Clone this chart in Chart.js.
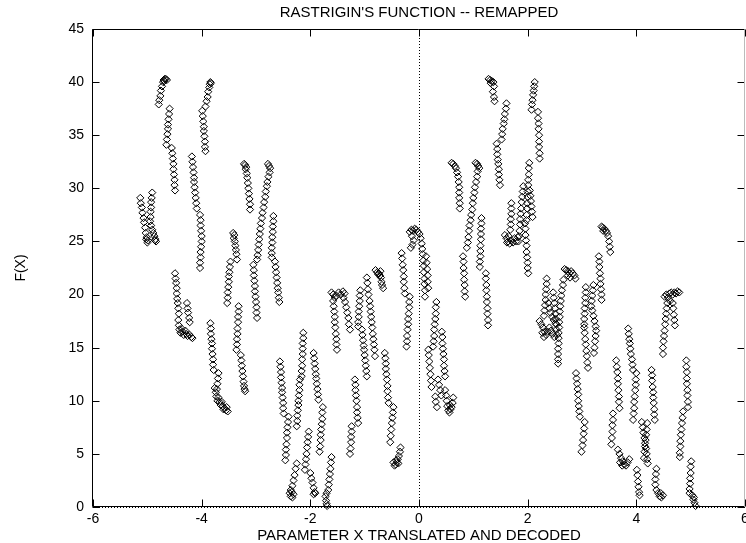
<!DOCTYPE html>
<html>
<head>
<meta charset="utf-8">
<title>Rastrigin's function -- remapped</title>
<script src="https://cdn.jsdelivr.net/npm/chart.js@4.4.0/dist/chart.umd.min.js"></script>
<style>
  html, body { margin: 0; padding: 0; background: #fff; }
</style>
</head>
<body>
<canvas id="rastriginChart" width="746" height="543"></canvas>
<script>
// axis setup
var chartTitle = "RASTRIGIN'S FUNCTION -- REMAPPED";
var xTitle = 'PARAMETER X TRANSLATED AND DECODED';
var yTitle = 'F(X)';
var xTickValues = [-6, -4, -2, 0, 2, 4, 6];
var yTickValues = [0, 5, 10, 15, 20, 25, 30, 35, 40, 45];

// population points [x, f(x)], grouped by x band
var farLeftPts = [
  [-5.13,29.1],[-5.12,28.6],[-5.10,28.2],[-5.09,27.7],[-5.07,27.2],[-5.06,26.8],[-5.04,26.3],[-5.03,25.8],[-5.01,25.4],[-5.00,24.9],[-5.02,25.2],[-4.99,25.1],
  [-4.91,29.6],[-4.92,29.1],[-4.93,28.7],[-4.93,28.2],[-4.94,27.8],[-4.94,27.3],[-4.95,26.9],[-4.93,26.5],[-4.91,26.1],[-4.89,25.8],[-4.87,25.5],[-4.85,25.2],[-4.84,25.0],[-4.86,25.1],
  [-4.64,40.2],[-4.66,40.3],[-4.68,40.3],[-4.70,40.2],[-4.71,40.0],[-4.69,40.1],[-4.73,39.6],[-4.75,39.2],[-4.76,38.7],[-4.78,38.3],[-4.79,37.9],
  [-4.59,37.5],[-4.60,37.0],[-4.61,36.5],[-4.62,36.0],[-4.62,35.6],[-4.63,35.1],[-4.64,34.6],[-4.65,34.1],
  [-4.55,33.8],[-4.54,33.3],[-4.53,32.8],[-4.52,32.3],[-4.52,31.8],[-4.51,31.3],[-4.50,30.8],[-4.50,30.3],[-4.49,29.8],
  [-4.49,22.0],[-4.48,21.5],[-4.47,21.1],[-4.46,20.6],[-4.46,20.1],[-4.45,19.6],[-4.44,19.2],[-4.43,18.7],[-4.42,18.2],
  [-4.27,19.2],[-4.26,18.7],[-4.25,18.3],[-4.23,17.8],[-4.22,17.4],
  [-4.43,17.6],[-4.42,17.1],[-4.41,16.7],[-4.39,16.4],[-4.37,16.8],[-4.35,16.5],[-4.33,16.2],[-4.30,16.6],[-4.28,16.3],[-4.26,16.1],[-4.22,16.2],[-4.19,16.0],[-4.17,15.9],
  [-4.18,33.0],[-4.17,32.5],[-4.16,32.0],[-4.15,31.5],[-4.14,31.0],[-4.14,30.6],[-4.13,30.1],[-4.12,29.6],[-4.11,29.1],[-4.10,28.6],[-4.09,28.1],
  [-4.03,27.5],[-4.02,27.0],[-4.02,26.5],[-4.01,26.0],[-4.00,25.5],[-4.00,25.0],[-4.01,24.5],[-4.02,24.0],[-4.02,23.5],[-4.03,23.0],[-4.03,22.5],
  [-3.84,40.0],[-3.85,39.8],[-3.83,39.9],[-3.86,39.5],[-3.88,39.1],[-3.89,38.6],[-3.91,38.2],[-3.93,37.7],
  [-3.99,37.3],[-3.98,36.8],[-3.97,36.3],[-3.96,35.8],[-3.96,35.4],[-3.95,34.9],[-3.94,34.4],[-3.94,33.9],[-3.93,33.5],
  [-3.84,17.3],[-3.83,16.8],[-3.83,16.3],[-3.82,15.8],[-3.81,15.4],[-3.81,14.9],[-3.80,14.4],[-3.79,13.9],[-3.79,13.4],[-3.78,12.9],
  [-3.69,12.6],[-3.70,12.1],[-3.71,11.6],[-3.72,11.1],
  [-3.76,11.2],[-3.74,10.8],[-3.73,10.4],[-3.71,10.0],[-3.69,10.3],[-3.67,9.9],[-3.65,9.6],[-3.63,9.9],[-3.61,9.5],[-3.58,9.3],[-3.55,9.1],[-3.52,9.0],[-3.54,9.4],[-3.60,9.2]
];

var leftMidPts = [
  [-3.42,25.8],[-3.40,25.6],[-3.41,25.3],[-3.39,25.0],[-3.38,24.6],[-3.37,24.2],[-3.36,23.8],[-3.35,23.3],
  [-3.47,23.1],[-3.48,22.6],[-3.49,22.1],[-3.50,21.7],[-3.50,21.2],[-3.51,20.7],[-3.52,20.2],[-3.52,19.7],[-3.53,19.2],
  [-3.32,18.9],[-3.32,18.4],[-3.33,17.9],[-3.33,17.4],[-3.34,16.8],[-3.34,16.3],[-3.35,15.8],[-3.35,15.3],[-3.36,14.8],
  [-3.28,14.3],[-3.27,13.8],[-3.26,13.3],[-3.25,12.8],[-3.24,12.3],[-3.23,11.8],[-3.22,11.4],[-3.20,10.9],[-3.21,11.1],
  [-3.22,32.3],[-3.20,32.2],[-3.18,32.0],[-3.19,31.8],[-3.17,31.4],[-3.16,31.0],[-3.15,30.5],[-3.14,30.0],[-3.13,29.5],[-3.12,29.0],[-3.11,28.5],[-3.11,28.0],
  [-3.05,22.8],[-3.04,22.3],[-3.04,21.8],[-3.03,21.3],[-3.02,20.8],[-3.02,20.3],[-3.01,19.8],[-3.00,19.3],[-2.99,18.8],[-2.99,18.3],[-2.98,17.8],
  [-2.78,32.3],[-2.76,32.1],[-2.74,31.9],[-2.75,31.5],[-2.77,31.1],[-2.79,30.6],[-2.80,30.2],[-2.82,29.7],[-2.83,29.2],[-2.85,28.7],[-2.86,28.2],[-2.88,27.7],[-2.89,27.2],[-2.91,26.7],[-2.92,26.2],[-2.93,25.7],[-2.94,25.2],[-2.95,24.7],[-2.96,24.2],[-2.97,23.7],[-2.98,23.3],
  [-2.68,27.4],[-2.68,26.9],[-2.69,26.4],[-2.69,25.9],[-2.70,25.4],[-2.70,24.9],[-2.71,24.4],[-2.71,23.9],[-2.71,23.5],
  [-2.65,23.1],[-2.64,22.6],[-2.63,22.1],[-2.62,21.6],[-2.61,21.1],[-2.60,20.6],[-2.59,20.2],[-2.58,19.7],[-2.57,19.3],
  [-2.56,13.7],[-2.55,13.2],[-2.54,12.7],[-2.54,12.2],[-2.53,11.7],[-2.52,11.2],[-2.52,10.8],[-2.51,10.3],[-2.50,9.8],[-2.50,9.3],[-2.49,8.8],
  [-2.40,8.5],[-2.41,8.0],[-2.42,7.5],[-2.43,7.0],[-2.43,6.5],[-2.44,5.9],[-2.45,5.4],[-2.45,4.9],[-2.46,4.4],
  [-2.25,4.1],[-2.27,3.6],[-2.29,3.0],[-2.31,2.5],[-2.33,2.0],[-2.36,1.6],[-2.38,1.3],[-2.36,1.0],[-2.33,0.9],[-2.31,1.2],[-2.34,1.4],
  [-2.13,16.4],[-2.13,15.9],[-2.14,15.4],[-2.14,14.9],[-2.14,14.4],[-2.15,13.9],[-2.15,13.3],[-2.16,12.8],[-2.16,12.3],
  [-2.19,12.0],[-2.20,11.5],[-2.20,11.0],[-2.21,10.5],[-2.22,10.0],[-2.22,9.6],[-2.23,9.1],[-2.24,8.6],[-2.24,8.1],[-2.25,7.6],
  [-2.03,7.1],[-2.04,6.6],[-2.05,6.1],[-2.06,5.6],[-2.07,5.0],[-2.08,4.5],[-2.09,4.0],[-2.10,3.5],
  [-2.00,3.2],[-1.98,2.7],[-1.96,2.3],[-1.94,1.8],[-1.92,1.4],[-1.94,1.2],[-1.91,1.3]
];

var centerLeftPts = [
  [-1.94,14.5],[-1.93,14.0],[-1.92,13.5],[-1.91,13.0],[-1.90,12.5],[-1.89,12.1],[-1.88,11.6],[-1.87,11.1],[-1.86,10.6],[-1.85,10.1],
  [-1.77,9.4],[-1.78,8.9],[-1.78,8.3],[-1.79,7.8],[-1.80,7.3],[-1.81,6.8],[-1.81,6.3],[-1.82,5.7],[-1.83,5.2],
  [-1.61,4.7],[-1.62,4.2],[-1.63,3.6],[-1.64,3.1],[-1.65,2.6],[-1.66,2.1],[-1.67,1.6],[-1.70,1.3],[-1.72,1.0],[-1.71,0.6],[-1.70,0.3],[-1.69,0.1],
  [-1.61,20.2],[-1.58,20.0],[-1.55,19.7],[-1.52,19.9],[-1.48,20.2],[-1.44,20.0],[-1.40,20.3],[-1.37,20.1],[-1.39,19.7],
  [-1.58,19.4],[-1.57,18.9],[-1.56,18.4],[-1.55,17.9],[-1.55,17.4],[-1.54,16.9],[-1.53,16.3],[-1.52,15.8],[-1.52,15.3],[-1.51,14.8],
  [-1.36,19.3],[-1.34,18.8],[-1.32,18.3],[-1.30,17.8],[-1.29,17.2],[-1.27,16.7],
  [-1.18,12.0],[-1.17,11.5],[-1.17,11.0],[-1.16,10.5],[-1.15,10.0],[-1.14,9.4],[-1.14,8.9],[-1.13,8.4],[-1.12,7.9],
  [-1.24,7.6],[-1.24,7.1],[-1.25,6.6],[-1.25,6.1],[-1.26,5.5],[-1.27,5.0],
  [-1.08,20.4],[-1.09,19.9],[-1.09,19.4],[-1.10,18.9],[-1.11,18.4],[-1.11,17.9],[-1.12,17.4],[-1.12,17.0],
  [-1.05,16.7],[-1.04,16.2],[-1.03,15.7],[-1.02,15.2],[-1.01,14.8],[-1.00,14.3],[-0.99,13.8],[-0.98,13.3],[-0.97,12.8],[-0.96,12.3],
  [-0.96,21.6],[-0.95,21.1],[-0.94,20.5],[-0.93,20.0],[-0.91,19.4],[-0.90,18.9],
  [-0.89,18.4],[-0.88,17.9],[-0.87,17.4],[-0.86,16.9],[-0.85,16.3],[-0.84,15.8],[-0.83,15.3],[-0.82,14.8],[-0.81,14.2],
  [-0.80,22.3],[-0.77,22.1],[-0.74,22.0],[-0.72,21.8],[-0.70,21.6],[-0.69,21.2],[-0.68,20.9],[-0.66,20.6],[-0.75,21.9],[-0.71,22.2],
  [-0.63,14.5],[-0.62,14.0],[-0.61,13.5],[-0.61,13.0],[-0.60,12.5],[-0.59,12.0],[-0.58,11.4],[-0.58,10.9],[-0.57,10.3],[-0.56,9.8],
  [-0.47,9.4],[-0.48,8.9],[-0.49,8.4],[-0.50,7.9],[-0.51,7.3],[-0.52,6.7],[-0.53,6.1],
  [-0.34,5.6],[-0.35,5.2],[-0.37,4.8],[-0.39,4.5],[-0.41,4.2],[-0.43,4.0],[-0.45,3.9],[-0.42,4.4],[-0.38,4.1],[-0.47,4.2],
  [-0.32,23.9],[-0.31,23.4],[-0.30,22.8],[-0.29,22.3],[-0.28,21.7],[-0.28,21.2],[-0.27,20.6],[-0.26,20.1],
  [-0.17,19.8],[-0.18,19.3],[-0.18,18.8],[-0.19,18.2],[-0.20,17.7],[-0.20,17.2],[-0.21,16.7],[-0.22,16.1],[-0.22,15.6],[-0.23,15.1],
  [-0.17,25.9],[-0.14,26.1],[-0.11,26.0],[-0.08,26.2],[-0.05,26.1],[-0.02,25.9],[0.01,25.7],[-0.13,25.5],[-0.10,25.1],[-0.12,24.7],[-0.15,24.4],[0.03,25.3]
];

var centerRightPts = [
  [0.05,24.8],[0.06,24.3],[0.07,23.8],[0.08,23.2],[0.09,22.7],[0.09,22.1],[0.10,21.5],[0.10,21.0],[0.11,20.4],[0.11,19.8],
  [0.13,23.6],[0.14,23.0],[0.15,22.4],[0.16,21.8],[0.16,21.2],[0.17,20.6],
  [0.32,19.3],[0.31,18.8],[0.31,18.2],[0.30,17.7],[0.29,17.2],[0.28,16.7],[0.28,16.1],[0.27,15.6],[0.26,15.1],
  [0.17,14.8],[0.18,14.3],[0.19,13.7],[0.20,13.1],[0.21,12.5],[0.22,11.9],[0.23,11.3],
  [0.42,16.5],[0.43,16.0],[0.43,15.4],[0.44,14.9],[0.45,14.4],[0.46,13.9],[0.46,13.3],[0.47,12.8],[0.48,12.3],
  [0.35,12.0],[0.37,11.5],[0.39,11.0],[0.41,10.5],
  [0.30,10.4],[0.31,9.9],[0.33,9.4],
  [0.48,11.0],[0.50,10.5],[0.51,10.0],[0.52,9.5],[0.54,9.1],[0.56,8.9],[0.58,9.2],[0.60,9.4],[0.57,9.6],[0.62,9.8],[0.63,10.3],
  [0.60,32.4],[0.63,32.3],[0.66,32.1],[0.68,31.9],[0.70,31.5],[0.72,31.1],[0.73,30.6],[0.74,30.1],[0.74,29.6],[0.74,29.1],[0.75,28.6],[0.75,28.1],
  [1.04,32.4],[1.07,32.3],[1.09,32.1],[1.11,31.9],[1.08,31.6],[1.07,31.1],[1.05,30.6],[1.03,30.1],[1.02,29.6],[1.00,29.1],[0.99,28.6],[0.98,28.0],[0.96,27.5],[0.95,27.0],[0.93,26.5],[0.92,26.0],[0.91,25.4],[0.90,24.9],[0.88,24.4],
  [0.81,23.6],[0.82,23.1],[0.82,22.5],[0.83,22.0],[0.83,21.4],[0.84,20.9],[0.84,20.3],[0.85,19.8],
  [1.15,27.2],[1.15,26.7],[1.14,26.2],[1.14,25.7],[1.14,25.2],[1.13,24.6],[1.13,24.1],[1.13,23.6],[1.12,23.1],[1.12,22.6],
  [1.23,22.0],[1.23,21.5],[1.24,20.9],[1.24,20.4],[1.25,19.8],[1.25,19.3],[1.26,18.7],[1.26,18.2],[1.27,17.6],[1.27,17.1],
  [1.28,40.3],[1.31,40.2],[1.34,40.1],[1.37,40.0],[1.32,39.9],[1.38,39.6],[1.36,39.1],[1.38,38.6],[1.39,38.2],
  [1.61,38.0],[1.60,37.5],[1.58,37.0],[1.57,36.5],[1.56,36.1],[1.54,35.6],[1.53,35.1],[1.52,34.6],
  [1.43,34.2],[1.44,33.7],[1.44,33.2],[1.45,32.7],[1.46,32.3],[1.47,31.8],[1.47,31.3],[1.48,30.8],[1.49,30.3],
  [1.70,28.6],[1.70,28.1],[1.70,27.6],[1.69,27.1],[1.69,26.6],[1.68,26.1],
  [1.92,30.2],[1.91,29.7],[1.90,29.2],[1.89,28.7],[1.88,28.1],[1.87,27.6],[1.86,27.1],[1.86,26.6],[1.85,26.0],[1.84,25.5],[1.83,25.0],
  [1.58,25.6],[1.61,25.3],[1.64,25.0],[1.67,24.8],[1.70,25.1],[1.73,24.9],[1.76,25.3],[1.79,25.0],[1.82,25.4],[1.65,25.5],[1.62,24.9],
  [2.03,32.4],[2.02,31.9],[2.02,31.3],[2.01,30.8],[2.01,30.3],[2.00,29.7],[2.00,29.2],[1.99,28.6],[1.99,28.1],[1.98,27.5],[1.98,27.0],
  [1.95,26.7],[1.96,26.2],[1.96,25.6],[1.97,25.1],[1.98,24.6],[1.98,24.0],[1.99,23.5],[2.00,23.0],[2.00,22.5],[2.01,22.0],
  [2.04,29.8],[2.05,29.3],[2.06,28.8],[2.07,28.3],[2.08,27.8],[2.09,27.3],
  [2.13,40.0],[2.12,39.6],[2.11,39.2],[2.10,38.8],[2.09,38.3],[2.08,37.9],[2.07,37.4],
  [2.19,37.2],[2.19,36.6],[2.20,36.1],[2.20,35.6],[2.21,35.0],[2.21,34.4],[2.21,33.9],[2.22,33.3],[2.22,32.8]
];

var rightMidPts = [
  [2.22,17.5],[2.25,17.2],[2.28,16.9],[2.31,16.5],[2.34,16.2],[2.37,16.5],[2.40,16.9],[2.43,16.6],[2.46,16.3],[2.49,16.0],[2.30,16.0],[2.27,16.4],
  [2.35,21.5],[2.35,21.0],[2.34,20.5],[2.33,20.0],[2.33,19.5],[2.32,19.0],[2.31,18.5],[2.30,18.0],
  [2.38,19.2],[2.40,18.7],[2.42,18.3],[2.45,17.9],[2.48,17.6],[2.51,17.3],
  [2.47,20.2],[2.48,19.7],[2.49,19.2],[2.50,18.7],[2.51,18.2],[2.52,17.7],[2.53,17.2],[2.53,16.7],[2.54,16.2],
  [2.66,21.4],[2.65,20.9],[2.63,20.4],[2.62,19.9],[2.61,19.4],[2.60,18.9],[2.59,18.4],[2.59,17.9],[2.58,17.4],[2.58,16.9],[2.57,16.4],[2.57,15.9],[2.57,15.4],[2.56,14.9],[2.56,14.4],[2.56,13.9],[2.56,13.5],
  [2.68,22.4],[2.71,22.3],[2.74,22.2],[2.77,22.0],[2.80,22.2],[2.83,22.0],[2.86,21.8],[2.88,21.5],[2.78,21.6],[2.74,21.8],
  [2.89,12.6],[2.90,12.1],[2.91,11.6],[2.92,11.1],[2.93,10.6],[2.93,10.0],[2.94,9.5],[2.95,9.0],[2.96,8.5],
  [3.05,8.0],[3.04,7.4],[3.03,6.9],[3.02,6.3],[3.01,5.8],[2.99,5.2],
  [3.07,20.7],[3.07,20.2],[3.06,19.7],[3.06,19.2],[3.05,18.7],[3.05,18.2],[3.04,17.7],[3.04,17.2],
  [3.04,16.9],[3.05,16.4],[3.06,15.8],[3.07,15.3],[3.08,14.7],[3.09,14.2],[3.10,13.6],[3.11,13.1],
  [3.21,20.9],[3.20,20.4],[3.19,19.9],[3.18,19.4],[3.17,18.9],
  [3.19,18.5],[3.21,18.0],[3.23,17.5],[3.25,17.0],
  [3.26,16.6],[3.25,16.1],[3.24,15.6],[3.23,15.0],[3.22,14.5],
  [3.31,23.6],[3.32,23.1],[3.32,22.6],[3.33,22.0],[3.34,21.5],[3.34,21.0],[3.35,20.5],[3.36,20.0],[3.36,19.5],
  [3.36,26.4],[3.38,26.3],[3.41,26.2],[3.44,26.0],[3.39,26.0],[3.46,25.8],[3.48,25.5],[3.50,25.0],[3.51,24.5],[3.52,24.0]
];

var farRightPts = [
  [3.63,13.8],[3.64,13.2],[3.65,12.7],[3.66,12.1],[3.66,11.6],[3.67,11.0],[3.68,10.4],[3.68,9.9],[3.69,9.3],
  [3.57,8.8],[3.57,8.2],[3.56,7.7],[3.56,7.1],[3.55,6.5],[3.54,5.9],
  [3.66,5.4],[3.69,5.0],[3.72,4.6],[3.75,4.3],[3.78,4.0],[3.81,3.9],[3.84,4.2],[3.87,4.5],[3.74,3.9],[3.70,4.2],
  [3.85,16.8],[3.86,16.3],[3.87,15.8],[3.88,15.4],[3.89,14.9],[3.90,14.4],[3.92,13.9],[3.93,13.4],[3.94,12.9],
  [4.00,12.6],[3.99,12.0],[3.99,11.5],[3.98,11.0],[3.97,10.4],[3.96,9.9],[3.96,9.3],[3.95,8.8],[3.94,8.2],
  [4.01,3.5],[4.02,3.0],[4.03,2.4],[4.04,1.9],[4.05,1.4],[4.06,1.1],
  [4.10,8.0],[4.12,7.5],[4.13,7.0],[4.15,6.5],[4.16,6.0],[4.18,5.5],[4.19,5.0],[4.20,4.5],[4.21,4.1],
  [4.20,7.9],[4.19,7.3],[4.18,6.8],[4.17,6.3],[4.16,5.7],[4.15,5.2],[4.14,4.6],
  [4.28,12.9],[4.29,12.4],[4.29,11.9],[4.30,11.3],[4.31,10.8],[4.31,10.3],[4.32,9.8],[4.33,9.2],[4.33,8.7],[4.34,8.2],
  [4.37,3.6],[4.36,3.1],[4.35,2.6],[4.35,2.1],[4.37,1.6],[4.40,1.3],[4.43,1.0],[4.46,0.9],[4.49,1.1],[4.45,1.3],
  [4.52,19.8],[4.55,20.0],[4.58,19.7],[4.61,20.1],[4.64,20.2],[4.67,20.0],[4.70,20.2],[4.73,20.1],[4.76,20.3],[4.79,20.2],[4.62,19.4],
  [4.57,19.2],[4.56,18.7],[4.55,18.2],[4.54,17.7],[4.53,17.2],[4.52,16.6],[4.51,16.1],[4.50,15.6],[4.49,15.0],[4.49,14.4],
  [4.67,19.2],[4.68,18.7],[4.69,18.1],[4.70,17.6],[4.71,17.1],
  [4.92,13.8],[4.92,13.2],[4.93,12.7],[4.93,12.1],[4.93,11.6],[4.94,11.0],[4.94,10.5],[4.95,9.9],[4.95,9.4],
  [4.86,9.0],[4.85,8.4],[4.84,7.9],[4.83,7.3],[4.82,6.8],[4.81,6.2],[4.81,5.7],[4.80,5.1],[4.80,4.7],
  [5.01,4.3],[5.00,3.8],[5.00,3.2],[4.99,2.7],[4.99,2.2],[4.98,1.7],[4.98,1.3],
  [5.03,1.1],[5.05,0.7],[5.07,0.4],[5.09,0.1],[5.06,0.9]
];

var allPts = farLeftPts.concat(leftMidPts, centerLeftPts, centerRightPts, rightMidPts, farRightPts)
  .map(function (p) { return { x: p[0], y: p[1] }; });

var fontFamily = '"Liberation Sans", Arial, Helvetica, sans-serif';
Chart.defaults.font.family = fontFamily;
Chart.defaults.font.size = 14;
Chart.defaults.color = '#000';

// gnuplot style frame: zero axes dotted, ticks pointing inwards
var framePlugin = {
  id: 'frame',
  beforeDatasetsDraw: function (chart) {
    var ctx = chart.ctx, a = chart.chartArea;
    var x0 = Math.round(chart.scales.x.getPixelForValue(0)) + 0.5;
    var y0 = Math.round(chart.scales.y.getPixelForValue(0)) + 0.5;
    ctx.save();
    ctx.strokeStyle = '#000';
    ctx.lineWidth = 1;
    ctx.setLineDash([1, 2]);
    ctx.beginPath();
    ctx.moveTo(x0, a.top);
    ctx.lineTo(x0, a.bottom);
    ctx.moveTo(a.left, y0);
    ctx.lineTo(a.right, y0);
    ctx.stroke();
    ctx.restore();
  },
  afterDatasetsDraw: function (chart) {
    var ctx = chart.ctx, a = chart.chartArea;
    var L = a.left - 0.5, R = a.right - 0.5, T = a.top + 0.5, B = a.bottom - 0.5;
    var tick = 7;
    ctx.save();
    ctx.lineWidth = 1;
    ctx.strokeStyle = '#000';
    ctx.beginPath();
    ctx.moveTo(R, T); ctx.lineTo(L, T); ctx.lineTo(L, B); ctx.lineTo(R, B);
    xTickValues.forEach(function (v) {
      var px = Math.round(chart.scales.x.getPixelForValue(v)) + 0.5;
      ctx.moveTo(px, B); ctx.lineTo(px, B - tick);
      ctx.moveTo(px, T); ctx.lineTo(px, T + tick);
    });
    yTickValues.forEach(function (v) {
      var py = Math.round(chart.scales.y.getPixelForValue(v)) + 0.5;
      ctx.moveTo(L, py); ctx.lineTo(L + tick, py);
      ctx.moveTo(R, py); ctx.lineTo(R - tick, py);
    });
    ctx.stroke();
    ctx.strokeStyle = '#bbb';
    ctx.beginPath();
    ctx.moveTo(R, T); ctx.lineTo(R, B);
    ctx.stroke();
    ctx.restore();
  }
};

var ctx = document.getElementById('rastriginChart').getContext('2d');
var rastriginChart = new Chart(ctx, {
  type: 'scatter',
  data: {
    datasets: [{
      label: 'population',
      data: allPts,
      pointStyle: 'rectRot',
      pointRadius: 3.6,
      borderWidth: 1,
      borderColor: '#000',
      backgroundColor: 'rgba(0,0,0,0)',
      clip: false
    }]
  },
  options: {
    responsive: false,
    animation: false,
    events: [],
    layout: { autoPadding: false, padding: { left: 0, right: 1, top: 0, bottom: 0 } },
    plugins: {
      legend: { display: false },
      tooltip: { enabled: false },
      title: {
        display: true,
        fullSize: false,
        text: chartTitle,
        color: '#000',
        font: { size: 15, weight: 'normal', lineHeight: 1.2 },
        padding: { top: 3.5, bottom: 7.5 }
      }
    },
    scales: {
      x: {
        type: 'linear',
        min: -6,
        max: 6,
        grid: { display: false, drawTicks: false },
        border: { display: false },
        ticks: { stepSize: 2, padding: 4, autoSkip: false, maxRotation: 0 },
        title: { display: true, text: xTitle, font: { size: 15 }, padding: { top: 0, bottom: -1.5 } },
        afterFit: function (s) { s.height = 36; s.paddingLeft = 0; s.paddingRight = 0; }
      },
      y: {
        type: 'linear',
        min: 0,
        max: 45,
        grid: { display: false, drawTicks: false },
        border: { display: false },
        ticks: { stepSize: 5, padding: 9 },
        title: { display: true, text: yTitle, padding: { top: 13, bottom: 0 } },
        afterFit: function (s) { s.width = 93; s.paddingTop = 0; s.paddingBottom = 0; }
      }
    }
  },
  plugins: [framePlugin]
});
</script>
</body>
</html>
